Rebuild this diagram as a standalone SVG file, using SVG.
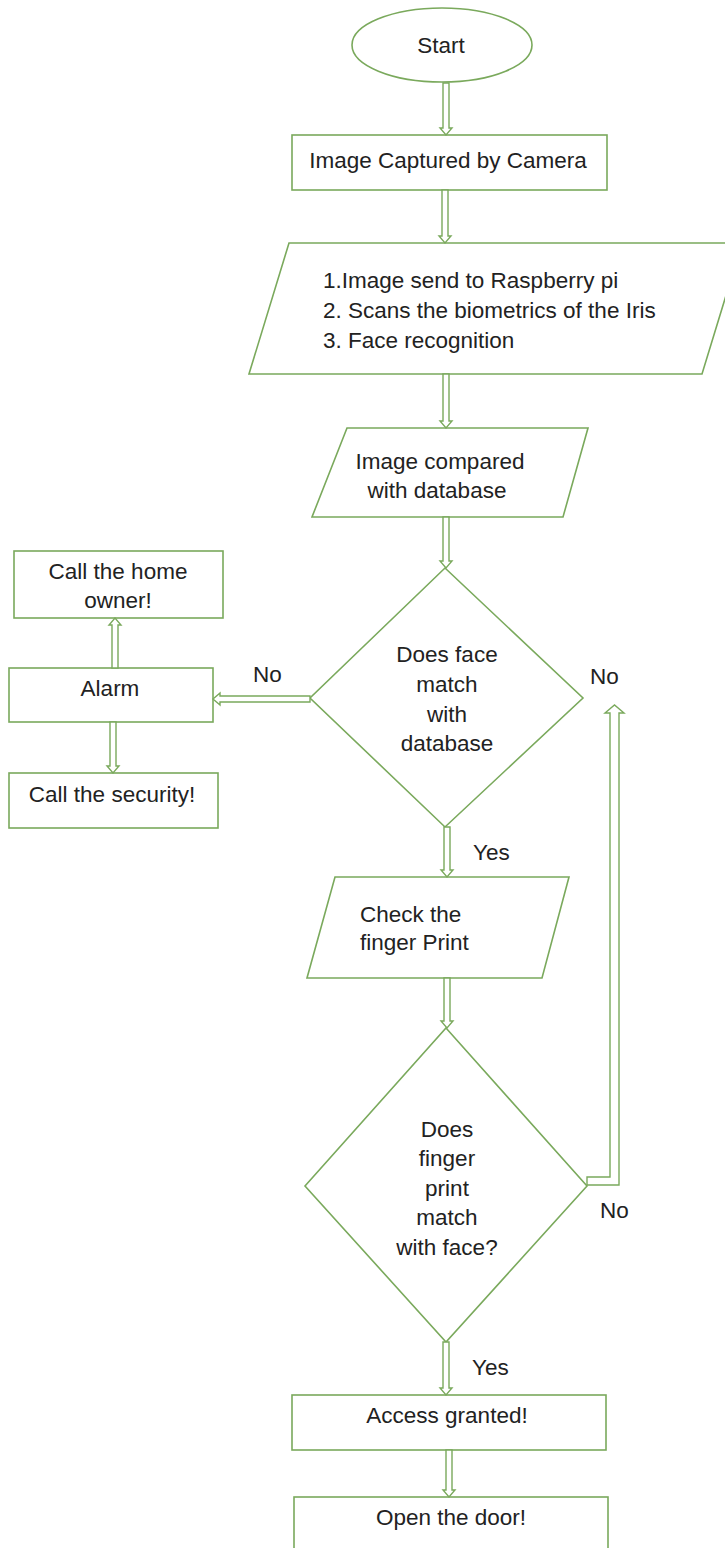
<svg xmlns="http://www.w3.org/2000/svg" width="725" height="1548" viewBox="0 0 725 1548">
<style>
.s{fill:#ffffff;stroke:#7aa95c;stroke-width:1.6}
.a{fill:#ffffff;stroke:#7aa95c;stroke-width:1.4;stroke-linejoin:miter}
text{font-family:"Liberation Sans",Arial,sans-serif;font-size:22.5px;fill:#222222}
.c{text-anchor:middle}
</style>
<rect x="0" y="0" width="725" height="1548" fill="#ffffff"/>
<g id="start"><ellipse class="s" cx="442" cy="45" rx="90" ry="37"/><text class="c" x="441" y="53">Start</text></g>
<g id="camera"><rect class="s" x="292" y="135" width="315" height="55"/><text class="c" x="448" y="168">Image Captured by Camera</text></g>
<g id="process"><polygon class="s" points="289,243 742,243 702,374 249,374"/>
<text x="323" y="288">1.Image send to Raspberry pi</text>
<text x="323" y="318">2. Scans the biometrics of the Iris</text>
<text x="323" y="348">3. Face recognition</text></g>
<g id="compare"><polygon class="s" points="347,428 588,428 563,517 312,517"/>
<text class="c" x="440" y="469">Image compared</text>
<text class="c" x="437" y="498">with database</text></g>
<g id="facematch"><polygon class="s" points="445,568 583,698 445,827 310,698"/>
<text class="c" x="447" y="662">Does face</text>
<text class="c" x="447" y="692">match</text>
<text class="c" x="447" y="722">with</text>
<text class="c" x="447" y="751">database</text></g>
<g id="homeowner"><rect class="s" x="14" y="551" width="209" height="67"/>
<text class="c" x="118" y="579">Call the home</text>
<text class="c" x="118" y="608">owner!</text></g>
<g id="alarm"><rect class="s" x="9" y="668" width="204" height="54"/><text class="c" x="110" y="696">Alarm</text></g>
<g id="security"><rect class="s" x="9" y="773" width="209" height="55"/><text class="c" x="112" y="802">Call the security!</text></g>
<g id="fingerprint"><polygon class="s" points="335,877 569,877 542,978 307,978"/>
<text x="360" y="922">Check the</text>
<text x="360" y="950">finger Print</text></g>
<g id="fingermatch"><polygon class="s" points="446,1028 587,1186 446,1342 305,1186"/>
<text class="c" x="447" y="1137">Does</text>
<text class="c" x="447" y="1166">finger</text>
<text class="c" x="447" y="1196">print</text>
<text class="c" x="447" y="1225">match</text>
<text class="c" x="447" y="1255">with face?</text></g>
<g id="access"><rect class="s" x="292" y="1395" width="314" height="55"/><text class="c" x="447" y="1423">Access granted!</text></g>
<g id="door"><rect class="s" x="294" y="1497" width="314" height="70"/><text class="c" x="451" y="1525">Open the door!</text></g>
<g id="connectors">
<polygon class="a" points="443,83 449,83 449,128 452,128 446,135 440,128 443,128"/>
<polygon class="a" points="442,190 448,190 448,236 451,236 445,243 439,236 442,236"/>
<polygon class="a" points="443,374 449,374 449,421 452,421 446,428 440,421 443,421"/>
<polygon class="a" points="443,517 449,517 449,561 452,561 446,568 440,561 443,561"/>
<polygon class="a" points="444,827 450,827 450,870 453,870 447,877 441,870 444,870"/>
<polygon class="a" points="444,978 450,978 450,1021 453,1021 447,1028 441,1021 444,1021"/>
<polygon class="a" points="443,1342 449,1342 449,1388 452,1388 446,1395 440,1388 443,1388"/>
<polygon class="a" points="446,1450 452,1450 452,1490 455,1490 449,1497 443,1490 446,1490"/>
<polygon class="a" points="110,722 116,722 116,766 119,766 113,773 107,766 110,766"/>
<polygon class="a" points="112,668 118,668 118,625 121,625 115,618 109,625 112,625"/>
<polygon class="a" points="310,696 310,702 220,702 220,705 213,699 220,693 220,696"/>
<polygon class="a" points="587,1177 610,1177 610,713 605,713 614.5,705 624,713 619,713 619,1185 587,1185"/>
<text x="590" y="684">No</text>
<text x="253" y="682">No</text>
<text x="473" y="860">Yes</text>
<text x="600" y="1218">No</text>
<text x="472" y="1375">Yes</text>
</g>
</svg>
